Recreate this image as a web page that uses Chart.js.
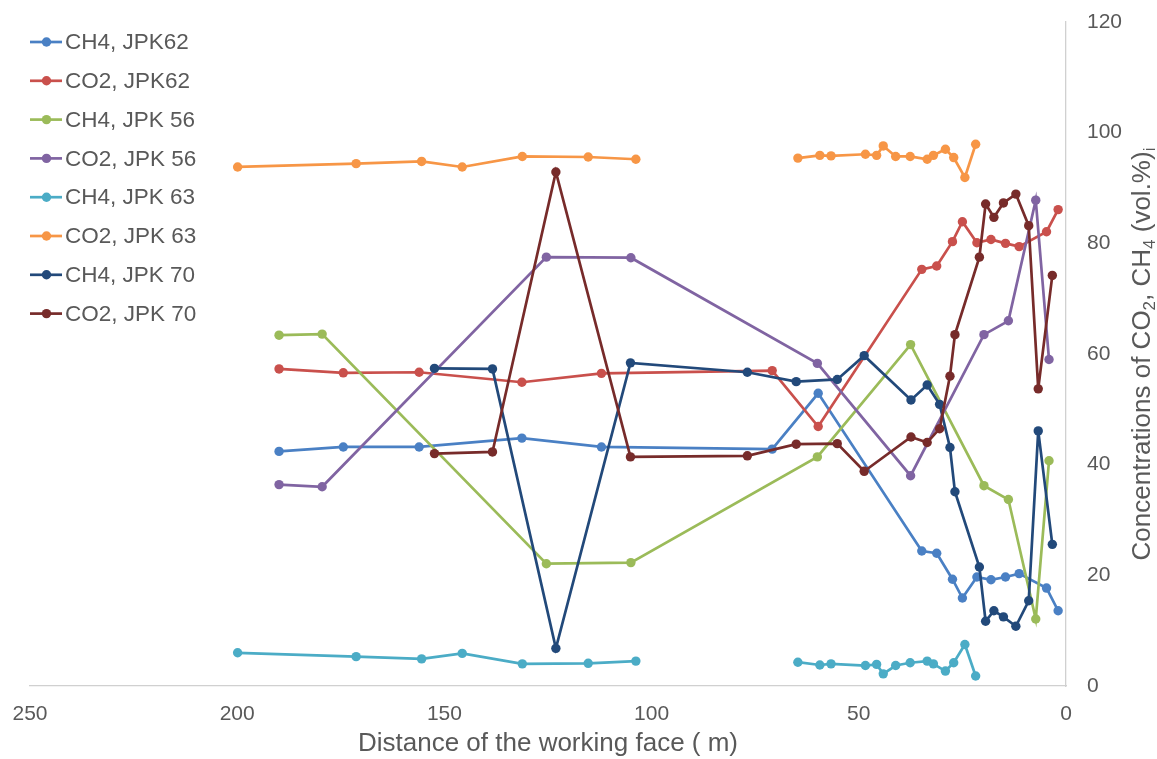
<!DOCTYPE html>
<html>
<head>
<meta charset="utf-8">
<script src="https://cdn.jsdelivr.net/npm/chart.js@4.4.1/dist/chart.umd.min.js"></script>
<style>
  html, body { margin: 0; padding: 0; background: #ffffff; }
  #wrap { width: 1157px; height: 759px; position: relative; }
</style>
</head>
<body>
<div id="wrap"><canvas id="chart" width="1157" height="759"></canvas></div>
<script>
// Distances from the working face (m) for each borehole, and gas concentrations (vol.%)
const seriesNames = ["CH4, JPK62", "CO2, JPK62", "CH4, JPK 56", "CO2, JPK 56",
                     "CH4, JPK 63", "CO2, JPK 63", "CH4, JPK 70", "CO2, JPK 70"];
const seriesColors = ["#4a80c4", "#c9504c", "#9bbb59", "#8064a2",
                      "#4bacc6", "#f79646", "#22497a", "#772b2a"];

const distJPK62 = [189.9, 174.4, 156.1, 131.3, 112.1, 70.9, 59.8, 34.8, 31.2, 27.4, 25.0, 21.5, 18.1, 14.6, 11.3, 4.7, 1.9];
const ch4JPK62  = [42.4, 43.2, 43.2, 44.8, 43.2, 42.8, 52.9, 24.4, 24.0, 19.3, 15.9, 19.7, 19.2, 19.7, 20.3, 17.7, 13.6];
const co2JPK62  = [57.3, 56.6, 56.7, 54.9, 56.5, 57.0, 46.9, 75.3, 75.9, 80.3, 83.9, 80.1, 80.7, 80.0, 79.4, 82.1, 86.1];

const distJPK56 = [189.9, 179.5, 125.4, 105.0, 60.0, 37.5, 19.8, 13.9, 7.3, 4.1];
const ch4JPK56  = [63.4, 63.6, 22.1, 22.3, 41.4, 61.7, 36.2, 33.7, 12.1, 40.7];
const co2JPK56  = [36.4, 36.0, 77.5, 77.4, 58.3, 38.0, 63.5, 66.0, 87.8, 59.0];

// null marks the break in the JPK 63 record
const distJPK63 = [199.9, 171.3, 155.5, 145.7, 131.2, 115.3, 103.8, null, 64.7, 59.4, 56.7, 48.4, 45.7, 44.1, 41.1, 37.6, 33.5, 32.0, 29.1, 27.1, 24.4, 21.8];
const ch4JPK63  = [6.0, 5.3, 4.9, 5.9, 4.0, 4.1, 4.5, null, 4.3, 3.8, 4.0, 3.7, 3.9, 2.2, 3.7, 4.2, 4.5, 4.0, 2.7, 4.2, 7.5, 1.8];
const co2JPK63  = [93.8, 94.4, 94.8, 93.8, 95.7, 95.6, 95.2, null, 95.4, 95.9, 95.8, 96.1, 95.9, 97.6, 95.7, 95.7, 95.2, 95.9, 97.0, 95.5, 91.9, 97.9];

const distJPK70 = [152.4, 138.4, 123.1, 105.1, 76.9, 65.1, 55.2, 48.7, 37.4, 33.5, 30.5, 28.0, 26.8, 20.9, 19.4, 17.4, 15.1, 12.1, 9.0, 6.7, 3.3];
const ch4JPK70  = [57.4, 57.3, 6.8, 58.4, 56.7, 55.0, 55.4, 59.7, 51.7, 54.4, 50.9, 43.1, 35.1, 21.5, 11.7, 13.6, 12.5, 10.8, 15.4, 46.1, 25.6];
const co2JPK70  = [42.0, 42.3, 92.9, 41.4, 41.6, 43.7, 43.8, 38.8, 45.0, 44.0, 46.5, 56.0, 63.5, 77.5, 87.1, 84.7, 87.3, 88.9, 83.2, 53.7, 74.2];

const xTitle = "Distance of the working face ( m)";
// y-axis title pieces: [text, subscript?]
const yTitleParts = [["Concentrations of CO", false], ["2", true], [", CH", false], ["4", true], [" (vol.%)", false], ["i", true]];

const FONT = '"Liberation Sans", Arial, Helvetica, sans-serif';
const TEXT = "#595959";

const seriesData = [
  [distJPK62, ch4JPK62], [distJPK62, co2JPK62],
  [distJPK56, ch4JPK56], [distJPK56, co2JPK56],
  [distJPK63, ch4JPK63], [distJPK63, co2JPK63],
  [distJPK70, ch4JPK70], [distJPK70, co2JPK70]
];

const datasets = seriesData.map(([xs, ys], i) => ({
  label: seriesNames[i],
  data: xs.map((x, k) => ({ x: x, y: ys[k] })),
  borderColor: seriesColors[i],
  backgroundColor: seriesColors[i],
  pointBackgroundColor: seriesColors[i],
  pointBorderWidth: 0,
  pointRadius: 4.7,
  pointHoverRadius: 4.7,
  borderWidth: 2.7,
  showLine: true,
  spanGaps: false,
  tension: 0,
  order: seriesNames.length - i
}));

// Legend drawn as line-with-marker rows in the upper left corner
const lineLegend = {
  id: 'lineLegend',
  afterDraw(chart) {
    const ctx = chart.ctx;
    ctx.save();
    ctx.font = '22.5px ' + FONT;
    ctx.textBaseline = 'middle';
    ctx.textAlign = 'left';
    chart.data.datasets.forEach((ds, i) => {
      const y = 42 + i * 38.8;
      ctx.strokeStyle = ds.borderColor;
      ctx.lineWidth = 2.7;
      ctx.beginPath();
      ctx.moveTo(30, y);
      ctx.lineTo(62, y);
      ctx.stroke();
      ctx.fillStyle = ds.borderColor;
      ctx.beginPath();
      ctx.arc(46.5, y, 4.7, 0, Math.PI * 2);
      ctx.fill();
      ctx.fillStyle = TEXT;
      ctx.fillText(ds.label, 65, y + 1);
    });
    ctx.restore();
  }
};

// Right-hand axis title, reading bottom to top, with subscripts
const rightTitle = {
  id: 'rightTitle',
  afterDraw(chart) {
    const ctx = chart.ctx;
    const area = chart.chartArea;
    const mainFont = '26px ' + FONT;
    const subFont = '17px ' + FONT;
    ctx.save();
    let total = 0;
    yTitleParts.forEach(([t, sub]) => {
      ctx.font = sub ? subFont : mainFont;
      total += ctx.measureText(t).width;
    });
    ctx.translate(1150, (area.top + area.bottom) / 2);
    ctx.rotate(-Math.PI / 2);
    ctx.fillStyle = TEXT;
    ctx.textBaseline = 'alphabetic';
    ctx.textAlign = 'left';
    let x = -total / 2;
    yTitleParts.forEach(([t, sub]) => {
      ctx.font = sub ? subFont : mainFont;
      ctx.fillText(t, x, sub ? 5 : 0);
      x += ctx.measureText(t).width;
    });
    ctx.restore();
  }
};

new Chart(document.getElementById('chart'), {
  type: 'scatter',
  data: { datasets },
  options: {
    responsive: false,
    animation: false,
    devicePixelRatio: 1,
    layout: { padding: { left: 30, top: 22, right: 0, bottom: 0 } },
    plugins: {
      legend: { display: false },
      tooltip: { enabled: false }
    },
    scales: {
      x: {
        type: 'linear',
        position: 'bottom',
        reverse: true,
        min: 0,
        max: 250,
        ticks: { stepSize: 50, padding: 16, color: TEXT, font: { size: 21, family: FONT } },
        grid: { display: false, drawTicks: false },
        border: { display: true, color: '#d0d0d0', width: 1.3 },
        title: { display: true, text: xTitle, color: TEXT, font: { size: 26, family: FONT }, padding: { top: 0, bottom: 0 } },
        afterFit(scale) { scale.height = 73; scale.paddingLeft = 0; scale.paddingRight = 0; }
      },
      y: {
        type: 'linear',
        position: 'right',
        min: 0,
        max: 120,
        ticks: { stepSize: 20, padding: 21, color: TEXT, font: { size: 21, family: FONT } },
        grid: { display: false, drawTicks: false },
        border: { display: true, color: '#d0d0d0', width: 1.3 },
        afterFit(scale) { scale.width = 91; scale.paddingTop = 0; scale.paddingBottom = 0; }
      }
    }
  },
  plugins: [lineLegend, rightTitle]
});
</script>
</body>
</html>
